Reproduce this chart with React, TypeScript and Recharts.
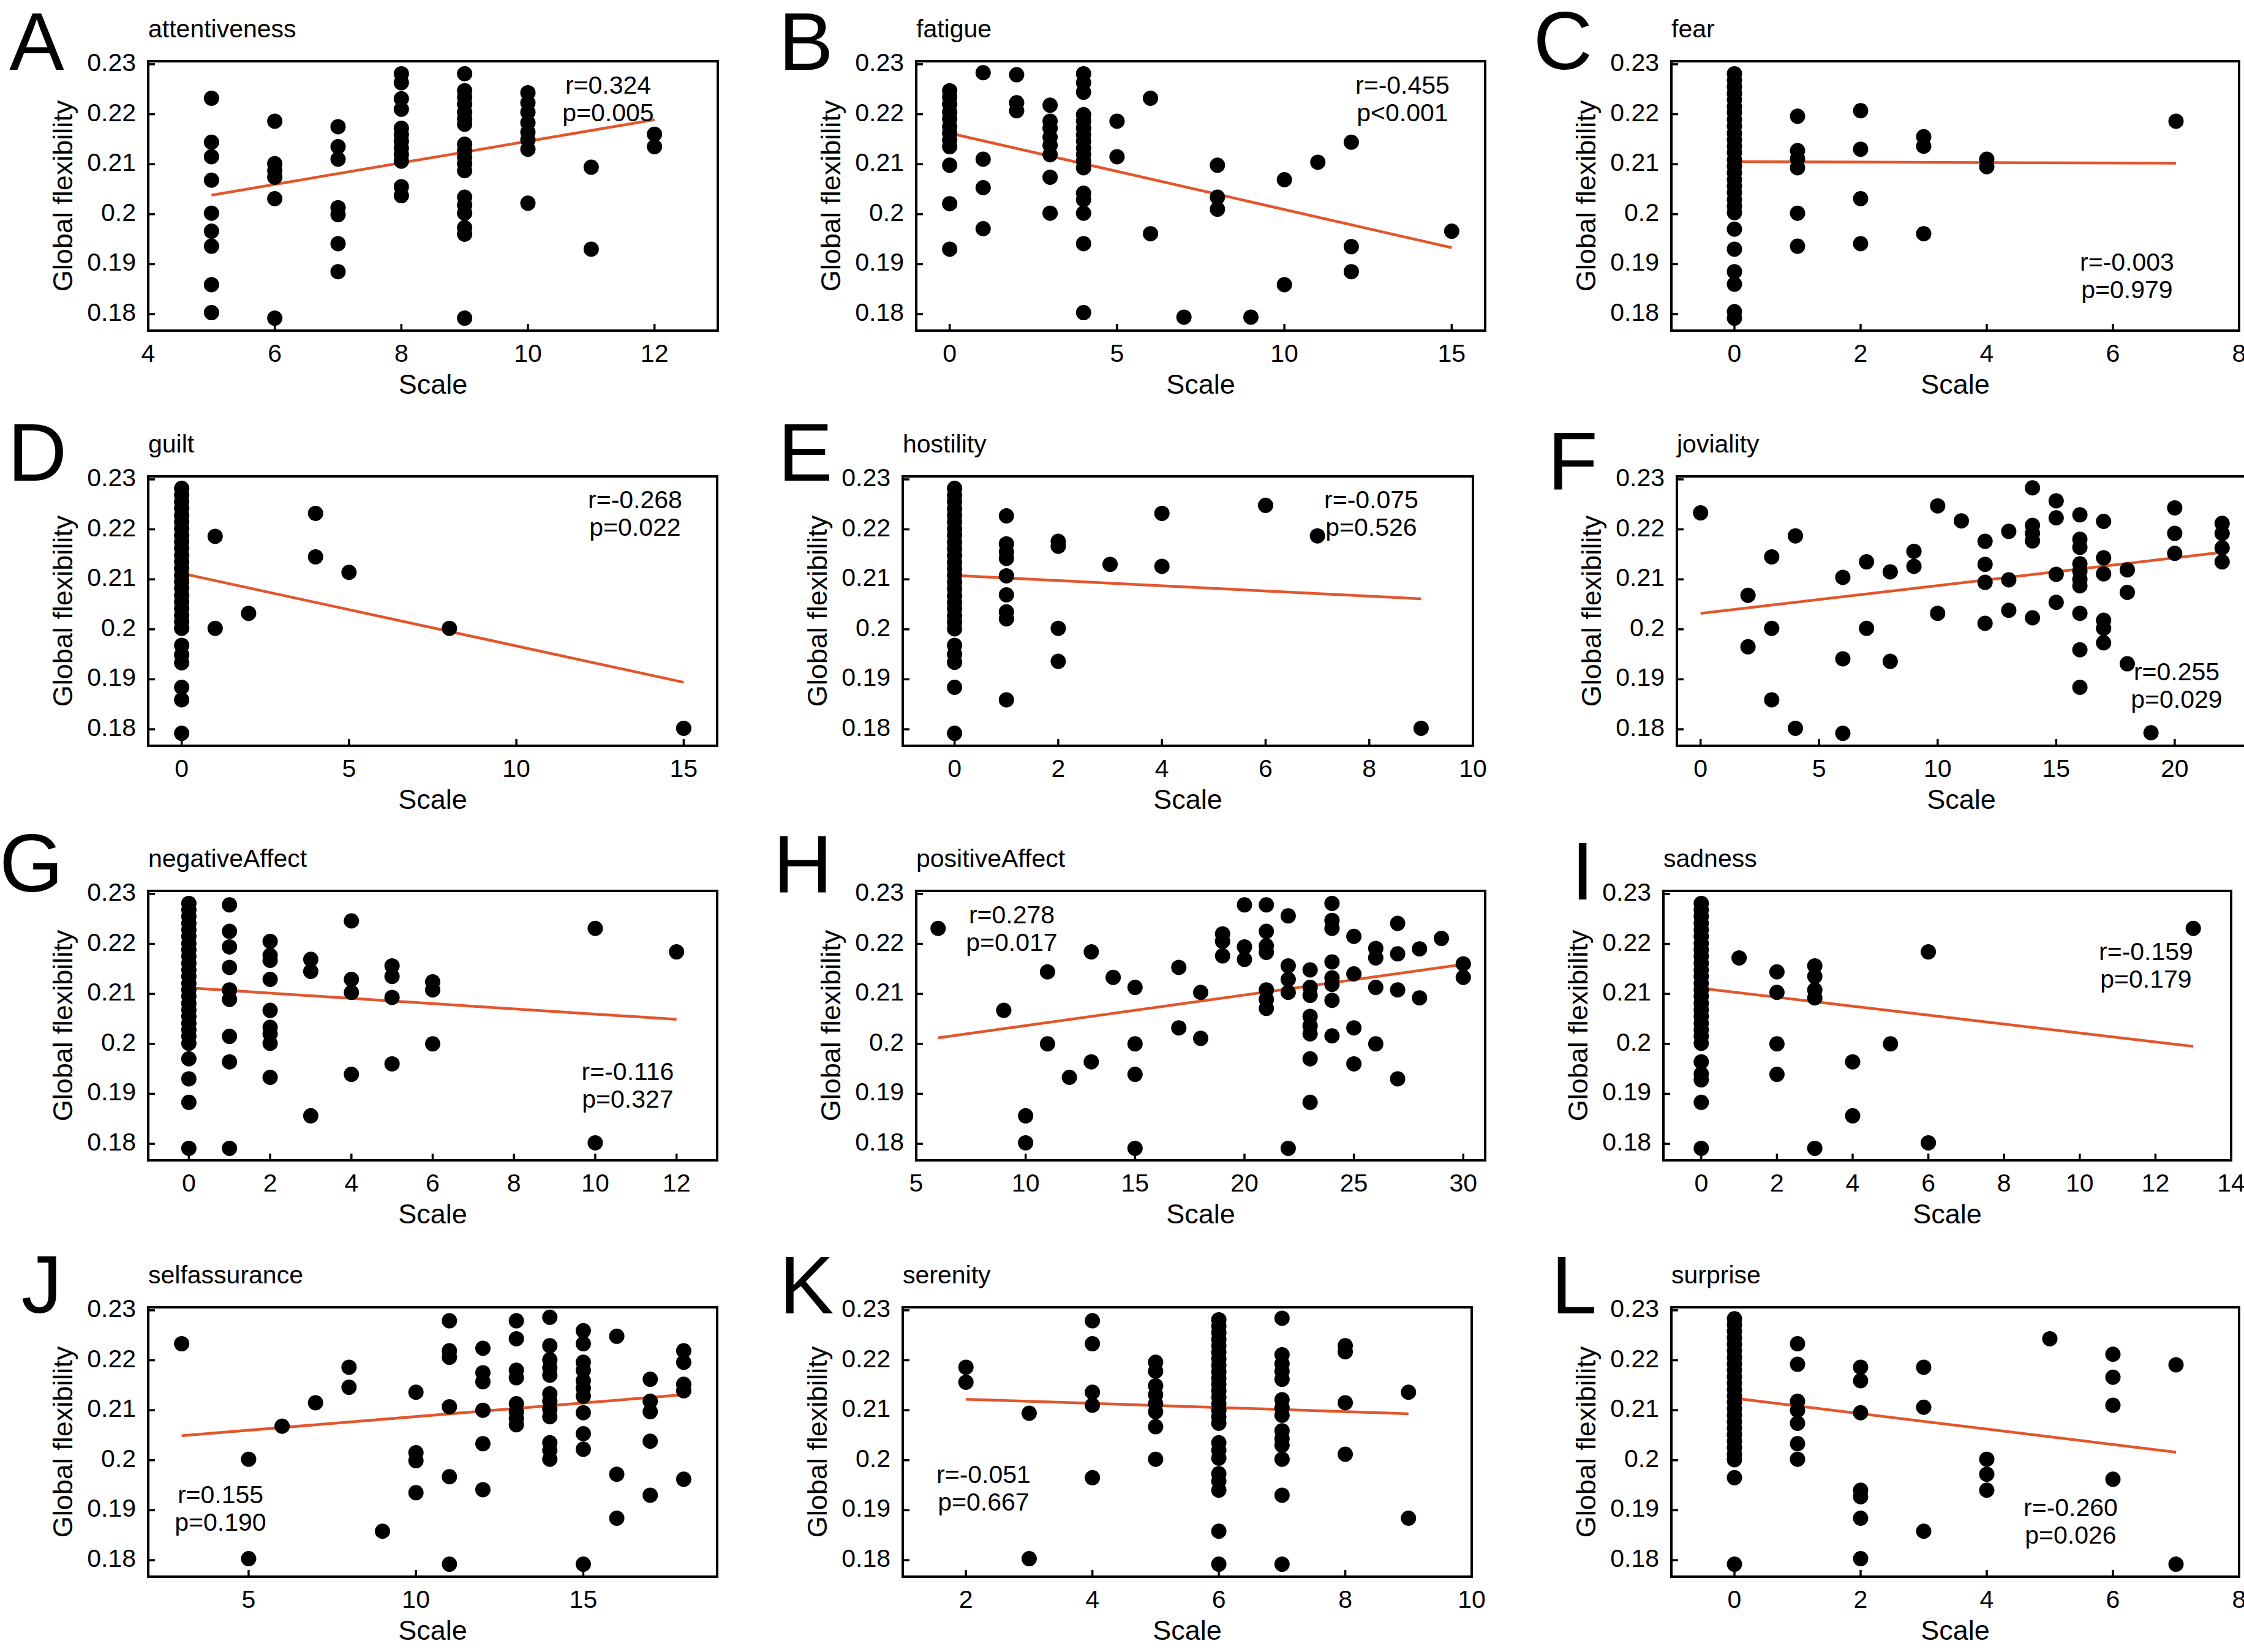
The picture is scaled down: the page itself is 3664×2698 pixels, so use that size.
import React from 'react';
import { ScatterChart, Scatter, XAxis, YAxis, ReferenceLine } from 'recharts';

type Col = [number, number[]];
type Pt = [number, number];

// ---------- data (x value, list of Global flexibility values) ----------
const attentivenessCols: Col[] = [
  [5, [0.2232, 0.2144, 0.2115, 0.2068, 0.2002, 0.1966, 0.1936, 0.1859, 0.1803]],
  [6, [0.2186, 0.2101, 0.2087, 0.2074, 0.2031, 0.1792]],
  [7, [0.2175, 0.2135, 0.211, 0.2013, 0.1999, 0.1941, 0.1885]],
  [8, [0.2281, 0.2263, 0.2231, 0.221, 0.2172, 0.2159, 0.2146, 0.2132, 0.2119, 0.2106, 0.2055, 0.2037]],
  [9, [0.2281, 0.2247, 0.2234, 0.222, 0.2204, 0.2191, 0.218, 0.214, 0.2127, 0.2114, 0.2101, 0.2087, 0.2034, 0.2018, 0.2002, 0.1973, 0.196, 0.1792]],
  [10, [0.2243, 0.2223, 0.2204, 0.2183, 0.2164, 0.2149, 0.213, 0.2022]],
  [11, [0.2094, 0.193]],
  [12, [0.216, 0.2135]],
];
const attentivenessFit: Pt[] = [[5, 0.2038], [12, 0.2189]];
const attentivenessStats = ['r=0.324', 'p=0.005'];

const fatigueCols: Col[] = [
  [0, [0.2247, 0.2234, 0.222, 0.2204, 0.2191, 0.2175, 0.2162, 0.2148, 0.2135, 0.2098, 0.2021, 0.193]],
  [1, [0.2283, 0.211, 0.2053, 0.1971]],
  [2, [0.2279, 0.2223, 0.2207]],
  [3, [0.2218, 0.2186, 0.2172, 0.2154, 0.2138, 0.2119, 0.2074, 0.2002]],
  [4, [0.2281, 0.2263, 0.2244, 0.2199, 0.2186, 0.2172, 0.2159, 0.2146, 0.2132, 0.2119, 0.2106, 0.2093, 0.2042, 0.2029, 0.2002, 0.1941, 0.1803]],
  [5, [0.2186, 0.2115]],
  [6, [0.2232, 0.1961]],
  [7, [0.1794]],
  [8, [0.2098, 0.2034, 0.201]],
  [9, [0.1794]],
  [10, [0.2069, 0.1859]],
  [11, [0.2104]],
  [12, [0.2144, 0.1935, 0.1885]],
  [15, [0.1966]],
];
const fatigueFit: Pt[] = [[0, 0.2162], [15, 0.1933]];
const fatigueStats = ['r=-0.455', 'p<0.001'];

const fearCols: Col[] = [
  [0, [0.2281, 0.2268, 0.2255, 0.2242, 0.2229, 0.2215, 0.2203, 0.2189, 0.2176, 0.2162, 0.2149, 0.2136, 0.2123, 0.2109, 0.2096, 0.2083, 0.2069, 0.2056, 0.2043, 0.2029, 0.2016, 0.2003, 0.197, 0.193, 0.1885, 0.186, 0.1805, 0.1792]],
  [1, [0.2196, 0.2127, 0.2111, 0.2093, 0.2002, 0.1936]],
  [2, [0.2207, 0.213, 0.2031, 0.1941]],
  [3, [0.2155, 0.2136, 0.1961]],
  [4, [0.211, 0.2095]],
  [7, [0.2186]],
];
const fearFit: Pt[] = [[0, 0.2105], [7, 0.2102]];
const fearStats = ['r=-0.003', 'p=0.979'];

const guiltCols: Col[] = [
  [0, [0.2282, 0.2269, 0.2255, 0.2242, 0.2228, 0.2215, 0.2202, 0.2188, 0.2175, 0.2162, 0.2148, 0.2135, 0.2122, 0.2108, 0.2095, 0.2082, 0.2068, 0.2055, 0.2042, 0.2028, 0.2015, 0.2002, 0.1968, 0.1949, 0.1933, 0.1884, 0.1859, 0.1792]],
  [1, [0.2186, 0.2002]],
  [2, [0.2032]],
  [4, [0.2232, 0.2145]],
  [5, [0.2114]],
  [8, [0.2002]],
  [15, [0.1802]],
];
const guiltFit: Pt[] = [[0, 0.2112], [15, 0.1894]];
const guiltStats = ['r=-0.268', 'p=0.022'];

const hostilityCols: Col[] = [
  [0, [0.2282, 0.2268, 0.2255, 0.2241, 0.2228, 0.2215, 0.2201, 0.2188, 0.2174, 0.2161, 0.2148, 0.2134, 0.2121, 0.2108, 0.2094, 0.2081, 0.2067, 0.2054, 0.2041, 0.2027, 0.2014, 0.2001, 0.1968, 0.195, 0.1934, 0.1884, 0.1792]],
  [1, [0.2227, 0.2171, 0.2155, 0.2142, 0.2107, 0.2069, 0.2035, 0.2021, 0.1859]],
  [2, [0.2176, 0.2166, 0.2002, 0.1936]],
  [3, [0.213]],
  [4, [0.2232, 0.2126]],
  [6, [0.2248]],
  [7, [0.2187]],
  [9, [0.1802]],
];
const hostilityFit: Pt[] = [[0, 0.2108], [9, 0.2061]];
const hostilityStats = ['r=-0.075', 'p=0.526'];

const jovialityCols: Col[] = [
  [0, [0.2233]],
  [2, [0.2068, 0.1965]],
  [3, [0.2145, 0.2002, 0.1859]],
  [4, [0.2187, 0.1802]],
  [6, [0.2104, 0.1941, 0.1792]],
  [7, [0.2135, 0.2002]],
  [8, [0.2115, 0.1936]],
  [9, [0.2156, 0.2126]],
  [10, [0.2247, 0.2032]],
  [11, [0.2217]],
  [12, [0.2176, 0.213, 0.2094, 0.2012]],
  [13, [0.2196, 0.2099, 0.2038]],
  [14, [0.2283, 0.2208, 0.2192, 0.2177, 0.2023]],
  [15, [0.2257, 0.2223, 0.211, 0.2054]],
  [16, [0.2229, 0.218, 0.2164, 0.2131, 0.2116, 0.21, 0.2087, 0.2032, 0.1959, 0.1884]],
  [17, [0.2216, 0.2143, 0.2111, 0.2018, 0.2002, 0.1973]],
  [18, [0.2119, 0.2074, 0.1931]],
  [19, [0.1793]],
  [20, [0.2243, 0.2192, 0.2152]],
  [22, [0.2212, 0.2192, 0.2163, 0.2135]],
];
const jovialityFit: Pt[] = [[0, 0.2032], [22, 0.2154]];
const jovialityStats = ['r=0.255', 'p=0.029'];

const negativeAffectCols: Col[] = [
  [0, [0.2281, 0.2268, 0.2255, 0.2241, 0.2228, 0.2215, 0.2201, 0.2188, 0.2175, 0.2161, 0.2148, 0.2135, 0.2121, 0.2108, 0.2095, 0.2081, 0.2068, 0.2055, 0.2041, 0.2028, 0.2015, 0.2001, 0.197, 0.193, 0.1883, 0.1791]],
  [1, [0.2278, 0.2225, 0.2194, 0.2153, 0.2108, 0.2089, 0.2015, 0.1964, 0.1791]],
  [2, [0.2205, 0.2177, 0.2167, 0.2129, 0.2067, 0.2033, 0.202, 0.2001, 0.1933]],
  [3, [0.2169, 0.2145, 0.1856]],
  [4, [0.2246, 0.2129, 0.2103, 0.1939]],
  [5, [0.2156, 0.2135, 0.2093, 0.196]],
  [6, [0.2124, 0.2108, 0.2]],
  [10, [0.2231, 0.1802]],
  [12, [0.2184]],
];
const negativeAffectFit: Pt[] = [[0, 0.2112], [12, 0.2049]];
const negativeAffectStats = ['r=-0.116', 'p=0.327'];

const positiveAffectCols: Col[] = [
  [6, [0.2231]],
  [9, [0.2067]],
  [10, [0.1856, 0.1802]],
  [11, [0.2144, 0.2]],
  [12, [0.1933]],
  [13, [0.2184, 0.1964]],
  [14, [0.2133]],
  [15, [0.2113, 0.2, 0.1939, 0.1791]],
  [17, [0.2153, 0.2032]],
  [18, [0.2103, 0.2011]],
  [19, [0.222, 0.2205, 0.2176]],
  [20, [0.2278, 0.2194, 0.2169]],
  [21, [0.2278, 0.2225, 0.2196, 0.2183, 0.2108, 0.2089, 0.2071]],
  [22, [0.2256, 0.2156, 0.2129, 0.2103, 0.1791]],
  [23, [0.2148, 0.2113, 0.2097, 0.2055, 0.2036, 0.202, 0.197, 0.1883]],
  [24, [0.2281, 0.2247, 0.2231, 0.2164, 0.2132, 0.2119, 0.2087, 0.2016]],
  [25, [0.2215, 0.214, 0.2032, 0.196]],
  [26, [0.2191, 0.2172, 0.2113, 0.2]],
  [27, [0.2241, 0.218, 0.2108, 0.193]],
  [28, [0.219, 0.2092]],
  [29, [0.2211]],
  [30, [0.216, 0.2133]],
];
const positiveAffectFit: Pt[] = [[6, 0.2012], [30, 0.2159]];
const positiveAffectStats = ['r=0.278', 'p=0.017'];

const sadnessCols: Col[] = [
  [0, [0.2281, 0.2268, 0.2255, 0.2241, 0.2228, 0.2215, 0.2201, 0.2188, 0.2175, 0.2161, 0.2148, 0.2135, 0.2121, 0.2108, 0.2095, 0.2081, 0.2068, 0.2055, 0.2041, 0.2028, 0.2015, 0.2001, 0.1964, 0.194, 0.1928, 0.1883, 0.1791]],
  [1, [0.2172]],
  [2, [0.2144, 0.2103, 0.2, 0.1939]],
  [3, [0.2156, 0.2135, 0.2108, 0.2092, 0.1791]],
  [4, [0.1964, 0.1856]],
  [5, [0.2]],
  [6, [0.2184, 0.1802]],
  [13, [0.2231]],
];
const sadnessFit: Pt[] = [[0, 0.2111], [13, 0.1995]];
const sadnessStats = ['r=-0.159', 'p=0.179'];

const selfassuranceCols: Col[] = [
  [3, [0.2233]],
  [5, [0.2002, 0.1803]],
  [6, [0.2068]],
  [7, [0.2115]],
  [8, [0.2186, 0.2146]],
  [9, [0.1858]],
  [10, [0.2136, 0.2015, 0.1999, 0.1935]],
  [11, [0.2279, 0.2219, 0.2206, 0.2107, 0.1967, 0.1792]],
  [12, [0.2224, 0.2175, 0.2157, 0.21, 0.2033, 0.1941]],
  [13, [0.2279, 0.2243, 0.218, 0.2165, 0.2113, 0.2097, 0.2084, 0.2071]],
  [14, [0.2286, 0.2229, 0.2201, 0.2185, 0.217, 0.2133, 0.2118, 0.2102, 0.2087, 0.2035, 0.202, 0.2002]],
  [15, [0.2259, 0.2233, 0.2196, 0.218, 0.2159, 0.2144, 0.2128, 0.2095, 0.2053, 0.2022, 0.1792]],
  [16, [0.2248, 0.1972, 0.1884]],
  [17, [0.2162, 0.2118, 0.2097, 0.2038, 0.193]],
  [18, [0.2219, 0.2196, 0.2152, 0.2139, 0.1962]],
];
const selfassuranceFit: Pt[] = [[3, 0.2049], [18, 0.2131]];
const selfassuranceStats = ['r=0.155', 'p=0.190'];

const serenityCols: Col[] = [
  [2, [0.2186, 0.2156]],
  [3, [0.2094, 0.1803]],
  [4, [0.2279, 0.2233, 0.2136, 0.211, 0.1965]],
  [5, [0.2196, 0.2178, 0.2149, 0.2131, 0.2113, 0.2097, 0.2067, 0.2002]],
  [6, [0.2281, 0.2268, 0.2255, 0.2242, 0.2229, 0.2216, 0.2203, 0.219, 0.2177, 0.2164, 0.2152, 0.2139, 0.2126, 0.2113, 0.21, 0.2087, 0.2074, 0.2035, 0.202, 0.2004, 0.1973, 0.1958, 0.194, 0.1858, 0.1792]],
  [7, [0.2284, 0.2211, 0.2193, 0.2178, 0.2162, 0.2121, 0.2105, 0.209, 0.2059, 0.2043, 0.203, 0.2002, 0.193, 0.1792]],
  [8, [0.2229, 0.2217, 0.2115, 0.2012]],
  [9, [0.2136, 0.1884]],
];
const serenityFit: Pt[] = [[2, 0.2122], [9, 0.2093]];
const serenityStats = ['r=-0.051', 'p=0.667'];

const surpriseCols: Col[] = [
  [0, [0.2283, 0.2271, 0.2258, 0.2245, 0.2232, 0.2219, 0.2206, 0.2193, 0.218, 0.2167, 0.2154, 0.2141, 0.2128, 0.2116, 0.2103, 0.209, 0.2077, 0.2064, 0.2051, 0.2038, 0.2025, 0.2012, 0.2001, 0.1965, 0.1792]],
  [1, [0.2233, 0.2192, 0.2118, 0.21, 0.2074, 0.2033, 0.2002]],
  [2, [0.2186, 0.2159, 0.2095, 0.194, 0.1927, 0.1884, 0.1803]],
  [3, [0.2186, 0.2106, 0.1858]],
  [4, [0.2002, 0.1972, 0.194]],
  [5, [0.2243]],
  [6, [0.2212, 0.2166, 0.211, 0.1962]],
  [7, [0.2191, 0.1792]],
];
const surpriseFit: Pt[] = [[0, 0.2124], [7, 0.2016]];
const surpriseStats = ['r=-0.260', 'p=0.026'];

const yTicks = [0.18, 0.19, 0.2, 0.21, 0.22, 0.23];
const yDomain: [number, number] = [0.1767, 0.2306];

// ---------- layout (page pixels) ----------
const FONT = '"Liberation Sans", Arial, Helvetica, sans-serif';
const LINE_COLOR = '#e2562c';

interface PanelCfg {
  letter: string;
  title: string;
  cols: Col[];
  fit: Pt[];
  stats: string[];
  xDomain: [number, number];
  xTicks: number[];
  box: { l: number; t: number; r: number; b: number };
  letterPos: [number, number];
  statsPos: [number, number];
}

const R1 = 100, R2 = 778, R3 = 1455, R4 = 2135, PH = 440;

const panels: PanelCfg[] = [
  { letter: 'A', title: 'attentiveness', cols: attentivenessCols, fit: attentivenessFit, stats: attentivenessStats,
    xDomain: [4, 13], xTicks: [4, 6, 8, 10, 12], box: { l: 242, t: R1, r: 1172, b: R1 + PH }, letterPos: [60, 114], statsPos: [993, 153] },
  { letter: 'B', title: 'fatigue', cols: fatigueCols, fit: fatigueFit, stats: fatigueStats,
    xDomain: [-1, 16], xTicks: [0, 5, 10, 15], box: { l: 1496, t: R1, r: 2425, b: R1 + PH }, letterPos: [1316, 114], statsPos: [2290, 153] },
  { letter: 'C', title: 'fear', cols: fearCols, fit: fearFit, stats: fearStats,
    xDomain: [-1, 8], xTicks: [0, 2, 4, 6, 8], box: { l: 2729, t: R1, r: 3656, b: R1 + PH }, letterPos: [2552, 113], statsPos: [3473, 442] },
  { letter: 'D', title: 'guilt', cols: guiltCols, fit: guiltFit, stats: guiltStats,
    xDomain: [-1, 16], xTicks: [0, 5, 10, 15], box: { l: 242, t: R2, r: 1171, b: R2 + PH }, letterPos: [61, 785], statsPos: [1037, 830] },
  { letter: 'E', title: 'hostility', cols: hostilityCols, fit: hostilityFit, stats: hostilityStats,
    xDomain: [-1, 10], xTicks: [0, 2, 4, 6, 8, 10], box: { l: 1474, t: R2, r: 2405, b: R2 + PH }, letterPos: [1315, 785], statsPos: [2239, 830] },
  { letter: 'F', title: 'joviality', cols: jovialityCols, fit: jovialityFit, stats: jovialityStats,
    xDomain: [-1, 23], xTicks: [0, 5, 10, 15, 20], box: { l: 2738, t: R2, r: 3667, b: R2 + PH }, letterPos: [2568, 799], statsPos: [3554, 1111] },
  { letter: 'G', title: 'negativeAffect', cols: negativeAffectCols, fit: negativeAffectFit, stats: negativeAffectStats,
    xDomain: [-1, 13], xTicks: [0, 2, 4, 6, 8, 10, 12], box: { l: 242, t: R3, r: 1171, b: R3 + PH }, letterPos: [51, 1456], statsPos: [1025, 1764] },
  { letter: 'H', title: 'positiveAffect', cols: positiveAffectCols, fit: positiveAffectFit, stats: positiveAffectStats,
    xDomain: [5, 31], xTicks: [5, 10, 15, 20, 25, 30], box: { l: 1496, t: R3, r: 2425, b: R3 + PH }, letterPos: [1311, 1458], statsPos: [1652, 1508] },
  { letter: 'I', title: 'sadness', cols: sadnessCols, fit: sadnessFit, stats: sadnessStats,
    xDomain: [-1, 14], xTicks: [0, 2, 4, 6, 8, 10, 12, 14], box: { l: 2716, t: R3, r: 3643, b: R3 + PH }, letterPos: [2584, 1469], statsPos: [3504, 1568] },
  { letter: 'J', title: 'selfassurance', cols: selfassuranceCols, fit: selfassuranceFit, stats: selfassuranceStats,
    xDomain: [2, 19], xTicks: [5, 10, 15], box: { l: 242, t: R4, r: 1171, b: R4 + PH }, letterPos: [68, 2144], statsPos: [360, 2455] },
  { letter: 'K', title: 'serenity', cols: serenityCols, fit: serenityFit, stats: serenityStats,
    xDomain: [1, 10], xTicks: [2, 4, 6, 8, 10], box: { l: 1474, t: R4, r: 2403, b: R4 + PH }, letterPos: [1317, 2145], statsPos: [1606, 2422] },
  { letter: 'L', title: 'surprise', cols: surpriseCols, fit: surpriseFit, stats: surpriseStats,
    xDomain: [-1, 8], xTicks: [0, 2, 4, 6, 8], box: { l: 2729, t: R4, r: 3656, b: R4 + PH }, letterPos: [2570, 2145], statsPos: [3381, 2476] },
];

const fmt = (v: number) => String(Math.round(v * 1000) / 1000);

const XTick = (props: any) => {
  const { x, y, payload } = props;
  return (
    <text x={x} y={y} textAnchor="middle" fontFamily={FONT} fontSize={41} fill="#000">
      {fmt(payload.value)}
    </text>
  );
};

const YTick = (props: any) => {
  const { x, y, payload } = props;
  return (
    <text x={x} y={y + 11} textAnchor="end" fontFamily={FONT} fontSize={41} fill="#000">
      {fmt(payload.value)}
    </text>
  );
};

const Dot = (props: any) => <circle cx={props.cx} cy={props.cy} r={12.5} fill="#000" />;

const AXIS_LINE = { stroke: '#000', strokeWidth: 4, strokeLinecap: 'square' as const };
const TICK_LINE = { stroke: '#000', strokeWidth: 3.5 };

const ML = 200, MT = 30, MR = 30, MB = 90;

function Panel({ p }: { p: PanelCfg }) {
  const w = p.box.r - p.box.l;
  const h = p.box.b - p.box.t;
  const data = p.cols.flatMap(([x, ys]) => ys.map((y) => ({ x, y })));
  return (
    <div style={{ position: 'absolute', left: p.box.l - ML, top: p.box.t - MT }}>
      <ScatterChart width={w + ML + MR} height={h + MT + MB} margin={{ top: MT - 1, right: MR - 1, bottom: 0, left: 0 }}>
        <XAxis xAxisId="b" dataKey="x" type="number" orientation="bottom" domain={p.xDomain} ticks={p.xTicks}
          allowDataOverflow height={MB} tickSize={-11} tickMargin={62} interval={0} stroke="#000"
          axisLine={AXIS_LINE} tickLine={TICK_LINE} tick={XTick} />
        <XAxis xAxisId="t" dataKey="x" type="number" orientation="top" domain={p.xDomain} ticks={p.xTicks}
          allowDataOverflow height={1} tickSize={-11} interval={0} stroke="#000"
          axisLine={AXIS_LINE} tickLine={TICK_LINE} tick={false} />
        <YAxis yAxisId="l" dataKey="y" type="number" orientation="left" domain={yDomain} ticks={yTicks}
          allowDataOverflow width={ML} tickSize={-11} tickMargin={31} interval={0} stroke="#000"
          axisLine={AXIS_LINE} tickLine={TICK_LINE} tick={YTick} />
        <YAxis yAxisId="r" dataKey="y" type="number" orientation="right" domain={yDomain} ticks={yTicks}
          allowDataOverflow width={1} tickSize={-11} interval={0} stroke="#000"
          axisLine={AXIS_LINE} tickLine={TICK_LINE} tick={false} />
        <Scatter xAxisId="b" yAxisId="l" data={data} isAnimationActive={false} shape={Dot} />
        <ReferenceLine xAxisId="b" yAxisId="l"
          segment={[{ x: p.fit[0][0], y: p.fit[0][1] }, { x: p.fit[1][0], y: p.fit[1][1] }]}
          stroke={LINE_COLOR} strokeWidth={4.5} ifOverflow="visible" />
      </ScatterChart>
    </div>
  );
}

export default function App() {
  return (
    <div style={{ position: 'absolute', left: 0, top: 0, width: 3664, height: 2698, overflow: 'hidden', background: '#fff' }}>
      {panels.map((p) => <Panel key={p.letter} p={p} />)}
      <svg width={3664} height={2698} style={{ position: 'absolute', left: 0, top: 0, pointerEvents: 'none' }}>
        {panels.map((p) => {
          const cx = (p.box.l + p.box.r) / 2;
          const cy = (p.box.t + p.box.b) / 2;
          const yl = p.box.l - 140;
          return (
            <g key={p.letter} fontFamily={FONT} fill="#000">
              <text x={p.letterPos[0]} y={p.letterPos[1]} fontSize={134} textAnchor="middle">{p.letter}</text>
              <text x={p.box.l} y={p.box.t - 39} fontSize={41}>{p.title}</text>
              <text x={p.statsPos[0]} y={p.statsPos[1]} fontSize={41} textAnchor="middle">{p.stats[0]}</text>
              <text x={p.statsPos[0]} y={p.statsPos[1] + 45} fontSize={41} textAnchor="middle">{p.stats[1]}</text>
              <text x={cx} y={p.box.b + 103} fontSize={45} textAnchor="middle">Scale</text>
              <text x={yl} y={cy} fontSize={45} textAnchor="middle" dominantBaseline="central"
                transform={`rotate(-90 ${yl} ${cy})`}>Global flexibility</text>
            </g>
          );
        })}
      </svg>
    </div>
  );
}
